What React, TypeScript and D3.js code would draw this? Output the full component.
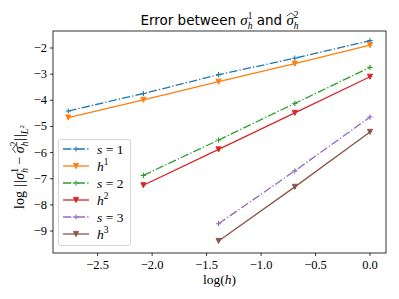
import React, { useEffect, useRef } from 'react';
import * as d3 from 'd3';

const W = 399, H = 299;
const margin = { left: 53, right: 13, top: 31, bottom: 46 };

const logH = [-2.77, -2.08, -1.39, -0.69, 0.0];
const s1 = [-4.41, -3.74, -3.02, -2.39, -1.72];
const h1 = [-4.66, -3.98, -3.29, -2.60, -1.89];
const s2 = [null, -6.87, -5.52, -4.12, -2.74];
const h2 = [null, -7.25, -5.88, -4.48, -3.10];
const s3 = [null, null, -8.72, -6.70, -4.64];
const h3 = [null, null, -9.38, -7.31, -5.21];

const xTicks = [-2.5, -2.0, -1.5, -1.0, -0.5, 0.0];
const yTicks = [-9, -8, -7, -6, -5, -4, -3, -2];

const series = [
  { name: 's', idx: '1', vals: s1, color: '#1f77b4', marker: 'plus', dash: true },
  { name: 'h', idx: '1', vals: h1, color: '#ff7f0e', marker: 'tri', dash: false },
  { name: 's', idx: '2', vals: s2, color: '#2ca02c', marker: 'plus', dash: true },
  { name: 'h', idx: '2', vals: h2, color: '#d62728', marker: 'tri', dash: false },
  { name: 's', idx: '3', vals: s3, color: '#9467bd', marker: 'plus', dash: true },
  { name: 'h', idx: '3', vals: h3, color: '#8c564b', marker: 'tri', dash: false },
];

const SANS = 'DejaVu Sans';
const SERIF = 'Liberation Serif';

// lay out a small "math" string from pieces, measuring each one
function mathText(parent, x, y, parts, anchor = 'middle', rotate = 0) {
  const g = parent.append('g').attr('transform', `translate(${x},${y}) rotate(${rotate})`);
  const inner = g.append('g');
  let cur = 0, prevStart = 0, prevEnd = 0;
  parts.forEach(p => {
    if (p.gap) cur += p.gap;
    const start = p.stack ? prevStart : cur;
    const t = inner.append('text')
      .attr('x', start).attr('y', p.dy || 0)
      .attr('font-family', p.f === 'sans' ? SANS : SERIF)
      .attr('font-style', p.f === 'it' ? 'italic' : 'normal')
      .attr('font-size', p.size)
      .attr('fill', '#000')
      .style('white-space', 'pre')
      .text(p.s);
    const w = (t.node() as SVGTextElement).getComputedTextLength();
    if (p.hat) {
      const top = (p.dy || 0) - p.size * 0.6;
      inner.append('path')
        .attr('d', `M${start + 0.3},${top} L${start + w / 2 + 0.8},${top - 3} L${start + w + 1.3},${top}`)
        .attr('fill', 'none').attr('stroke', '#000').attr('stroke-width', 0.7);
    }
    const end = start + w;
    if (p.stack) { cur = Math.max(prevEnd, end); }
    else { prevStart = start; cur = end; }
    prevEnd = Math.max(end, p.stack ? prevEnd : end);
  });
  const shift = anchor === 'middle' ? -cur / 2 : anchor === 'end' ? -cur : 0;
  inner.attr('transform', `translate(${shift},0)`);
  return g;
}

function drawMarker(g, type, x, y, color, r = 2.6) {
  if (type === 'plus') {
    g.append('path')
      .attr('d', `M${x - r},${y}H${x + r}M${x},${y - r}V${y + r}`)
      .attr('stroke', color).attr('stroke-width', 1.1).attr('fill', 'none');
  } else {
    g.append('path')
      .attr('d', `M${x},${y + r}L${x - r},${y - r}L${x + r},${y - r}Z`)
      .attr('fill', color).attr('stroke', color).attr('stroke-width', 0.9);
  }
}

export default function App() {
  const ref = useRef(null);

  useEffect(() => {
    const svg = d3.select(ref.current);
    svg.selectAll('*').remove();

    const x = d3.scaleLinear().domain([-2.91, 0.147]).range([margin.left, W - margin.right]);
    const y = d3.scaleLinear().domain([-9.84, -1.35]).range([H - margin.bottom, margin.top]);

    svg.append('rect').attr('width', W).attr('height', H).attr('fill', '#fff');

    const plot = svg.append('g');
    const line = d3.line<any>()
      .defined(d => d.v !== null)
      .x(d => x(d.x)).y(d => y(d.v));

    series.forEach(s => {
      const pts = logH.map((lx, i) => ({ x: lx, v: s.vals[i] }));
      plot.append('path')
        .attr('d', line(pts))
        .attr('fill', 'none')
        .attr('stroke', s.color)
        .attr('stroke-width', 1.3)
        .attr('stroke-dasharray', s.dash ? '8.3,2.1,1.3,2.1' : null);
      pts.filter(p => p.v !== null).forEach(p => drawMarker(plot, s.marker, x(p.x), y(p.v), s.color));
    });

    // frame
    const [x0, x1] = x.range();
    const [yb, yt] = y.range();
    svg.append('rect')
      .attr('x', x0).attr('y', yt).attr('width', x1 - x0).attr('height', yb - yt)
      .attr('fill', 'none').attr('stroke', '#000').attr('stroke-width', 0.8);

    // ticks
    const ax = svg.append('g');
    xTicks.forEach(t => {
      ax.append('line').attr('x1', x(t)).attr('x2', x(t)).attr('y1', yb).attr('y2', yb + 3)
        .attr('stroke', '#000').attr('stroke-width', 0.8);
      ax.append('text').attr('x', x(t)).attr('y', yb + 16)
        .attr('text-anchor', 'middle').attr('font-family', SERIF).attr('font-size', 12.5)
        .text(d3.format('.1f')(t).replace('-', '\u2212'));
    });
    yTicks.forEach(t => {
      ax.append('line').attr('x1', x0).attr('x2', x0 - 3).attr('y1', y(t)).attr('y2', y(t))
        .attr('stroke', '#000').attr('stroke-width', 0.8);
      ax.append('text').attr('x', x0 - 6).attr('y', y(t) + 4)
        .attr('text-anchor', 'end').attr('font-family', SERIF).attr('font-size', 12.5)
        .text(String(t).replace('-', '\u2212'));
    });

    // title
    mathText(svg, (x0 + x1) / 2, 25, [
      { s: 'Error between ', f: 'sans', size: 13.5 },
      { s: 'σ', f: 'it', size: 15 },
      { s: 'h', f: 'it', size: 9.5, dy: 4 },
      { s: '1', f: 'rm', size: 9.5, dy: -6.5, stack: true },
      { s: ' and ', f: 'sans', size: 13.5 },
      { s: 'σ', f: 'it', size: 15, hat: true },
      { s: 'h', f: 'it', size: 9.5, dy: 4 },
      { s: '2', f: 'rm', size: 9.5, dy: -7.5, stack: true },
    ]);

    // x label
    mathText(svg, (x0 + x1) / 2, 284, [
      { s: 'log(', f: 'rm', size: 13.5 },
      { s: 'h', f: 'it', size: 13.5 },
      { s: ')', f: 'rm', size: 13.5 },
    ]);

    // y label
    mathText(svg, 24, 167, [
      { s: 'log', f: 'rm', size: 14 },
      { s: '|', f: 'rm', size: 14, gap: 4 },
      { s: '|', f: 'rm', size: 14, gap: 1.2 },
      { s: 'σ', f: 'it', size: 14, gap: 0.5 },
      { s: 'h', f: 'it', size: 9.5, dy: 4 },
      { s: '1', f: 'rm', size: 9.5, dy: -6.5, stack: true },
      { s: '−', f: 'rm', size: 14, gap: 3.5 },
      { s: 'σ', f: 'it', size: 14, hat: true, gap: 3.5 },
      { s: 'h', f: 'it', size: 9.5, dy: 4 },
      { s: '2', f: 'rm', size: 9.5, dy: -7.5, stack: true },
      { s: '|', f: 'rm', size: 14, gap: 0.5 },
      { s: '|', f: 'rm', size: 14, gap: 1.2 },
      { s: 'L', f: 'it', size: 10, dy: 3.5 },
      { s: '2', f: 'rm', size: 7, dy: -0.5 },
    ], 'middle', -90);

    // legend
    const lg = svg.append('g');
    lg.append('rect').attr('x', 58.5).attr('y', 139.5).attr('width', 72).attr('height', 106)
      .attr('rx', 2.5).attr('fill', '#fff').attr('fill-opacity', 0.8)
      .attr('stroke', '#ccc').attr('stroke-width', 0.8);
    series.forEach((s, i) => {
      const ly = 149 + i * 17;
      lg.append('line').attr('x1', 63).attr('x2', 89).attr('y1', ly).attr('y2', ly)
        .attr('stroke', s.color).attr('stroke-width', 1.3)
        .attr('stroke-dasharray', s.dash ? '8.3,2.1,1.3,2.1' : null);
      drawMarker(lg, s.marker, 76, ly, s.color);
      const parts = s.name === 's'
        ? [{ s: 's', f: 'it', size: 13.5 }, { s: ' = ', f: 'rm', size: 13.5 }, { s: s.idx, f: 'rm', size: 13.5 }]
        : [{ s: 'h', f: 'it', size: 13.5 }, { s: s.idx, f: 'rm', size: 9.5, dy: -5.5 }];
      mathText(lg, 97, ly + 4.5, parts, 'start');
    });
  }, []);

  return <svg ref={ref} width={W} height={H}
    style={{ display: 'block', position: 'absolute', left: 0, top: 0 }} />;
}
